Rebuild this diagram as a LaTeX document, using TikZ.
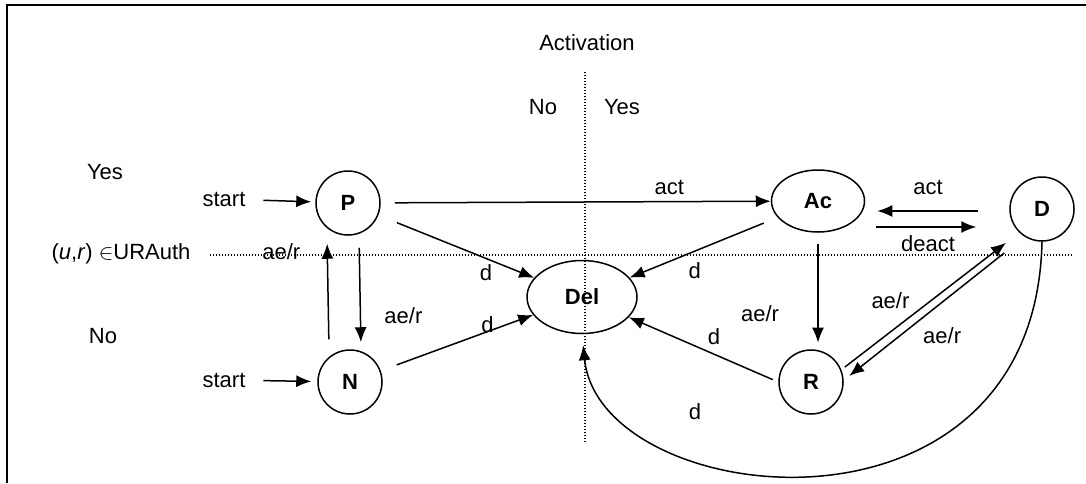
\documentclass[tikz,border=0pt]{standalone}
\usepackage{fontspec}
\setmainfont{Liberation Sans}
\usetikzlibrary{shapes,arrows.meta}

\begin{document}
\begin{tikzpicture}[x=0.5pt,y=-0.5pt,font=\fontsize{11}{13}\selectfont]
				\tikzstyle{common} = [draw, line width=0.75pt, inner sep=0pt, font=\fontsize{11}{13}\selectfont\bfseries]
				\tikzstyle{state} = [circle, common, minimum size=32pt]
				\tikzstyle{oval} = [ellipse, common]
				\tikzstyle{txt} = [inner sep=0pt]
				\tikzstyle{line} = [draw, line width=0.75pt, -{Latex[length=7.5pt,width=6pt]}]
				\tikzstyle{guide} = [draw, line width=0.6pt, dash pattern=on 0.6pt off 0.9pt]
				\useasboundingbox (0,0) rectangle (1086,483);
				\draw[line width=1pt] (7,483) -- (7,5) -- (1086,5);

				\node[state] (P) at (348,203) {P};
				\node[state] (N) at (350,382) {N};
				\node[oval, minimum width=46.5pt, minimum height=31pt] (Ac) at (818,201) {Ac};
				\node[state] (D) at (1042,209) {D};
				\node[state] (R) at (811,382) {R};
				\node[oval, minimum width=55pt, minimum height=36.5pt] (Del) at (582,297) {Del};

				\node[txt] (activation) at (587,43) {Activation};
				\node[txt] (colno) at (543,107) {No};
				\node[txt] (colyes) at (622,107) {Yes};
				\node[txt] (rowyes) at (105,172) {Yes};
				\node[txt] (rowno) at (103,336) {No};
				\node[txt] (auth) at (121,254) {(\textit{u},\textit{r}) $\in$URAuth};
				\node[txt] (start1) at (224,199) {start};
				\node[txt] (start2) at (224,380) {start};

				\coordinate (vtop) at (585,72);
				\coordinate (vbot) at (585,442);
				\coordinate (hleft) at (210,255);
				\coordinate (hright) at (1072,255);
				\draw[guide] (vtop) -- (vbot);
				\draw[guide] (hleft) -- (hright);

				\draw[line, shorten <=8.8pt, shorten >=2pt] (start1) -- (P);
				\draw[line, shorten <=8.8pt, shorten >=3pt] (start2) -- (N);
				\draw[line, shorten <=7pt] (P) -- (Ac) node[pos=0.74, yshift=7pt] {act};
				\draw[line, shorten <=5pt, shorten >=4pt] ([xshift=-10.5pt]N.north) -- ([xshift=-10.5pt]P.south) node[pos=0.86, xshift=-23pt] {ae/r};
				\draw[line, shorten <=6pt, shorten >=3.5pt] ([xshift=5.5pt]P.south) -- ([xshift=5.5pt]N.north) node[pos=0.7, xshift=21.5pt] {ae/r};
				\draw[line, shorten <=10pt] (P) -- (Del) node[pos=0.69, yshift=-7pt] {d};
				\draw[line, shorten <=8.5pt] (N) -- (Del) node[pos=0.7, yshift=3.5pt] {d};
				\draw[line, shorten <=7.5pt] (Ac) -- (Del) node[pos=0.56, yshift=-9.5pt] {d};
				\draw[line, shorten <=3pt] (R.west) -- (Del) node[pos=0.43, yshift=9pt] {d};
				\draw[line, shorten <=5.5pt, shorten >=3.3pt] (Ac.south) -- (Ac.south |- R.north) node[pos=0.69, xshift=-29pt] {ae/r};
				\draw[line, shorten <=5.2pt, shorten >=16.5pt] ([yshift=-13pt]Ac.east) -- ([yshift=-9pt]D.west) node[pos=0.436, yshift=-8.5pt] {deact};
				\draw[line, shorten <=15.5pt, shorten >=6pt] ([yshift=-1pt]D.west) -- ([yshift=-5pt]Ac.east) node[pos=0.564, yshift=12pt] {act};
				\draw[line, shorten <=2.2pt, shorten >=8.4pt] (R.22) -- (D.226) node[pos=0.2, xshift=6.75pt, yshift=21pt] {ae/r};
				\draw[line, shorten <=13pt, shorten >=3.5pt] (D.238) -- (R.3) node[pos=0.456, yshift=-16.5pt] {ae/r};
				\draw[line, shorten >=5.5pt] (D.south) .. controls (1035,560) and (600,510) .. (Del.south) node[pos=0.7, xshift=3.5pt, yshift=20pt] {d};
			\end{tikzpicture}
\end{document}
